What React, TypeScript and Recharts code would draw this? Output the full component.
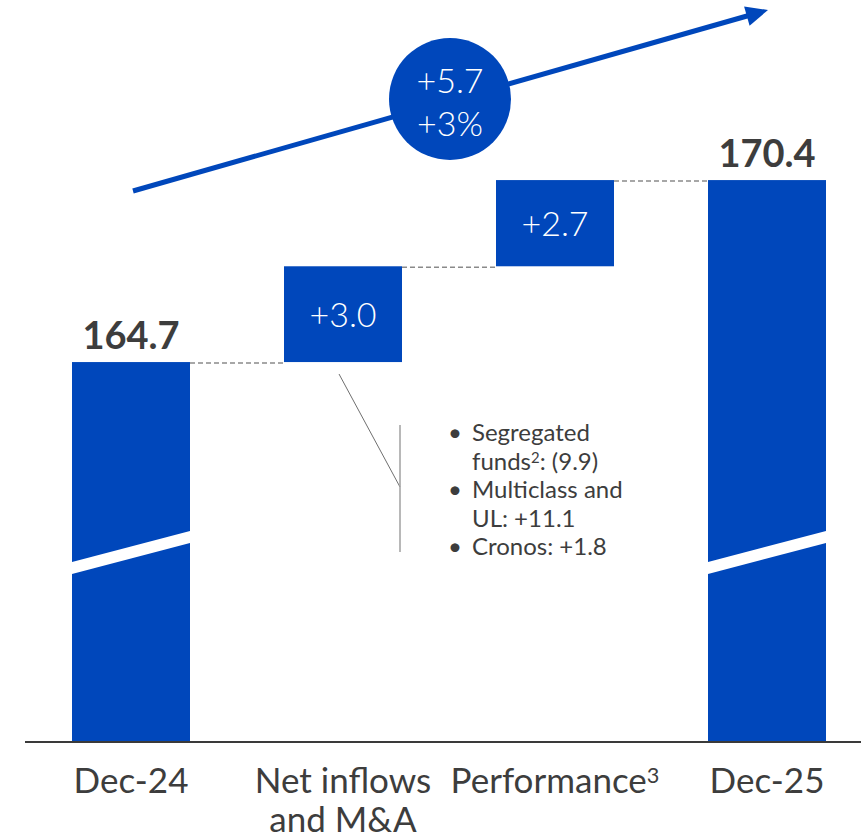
import React from 'react';
import { BarChart, Bar, XAxis, YAxis, LabelList } from 'recharts';

// Assets under management bridge, Dec-24 to Dec-25
const categories = ['Dec-24', 'Net inflows and M&A', 'Performance³', 'Dec-25'];
const tickLines = [['Dec-24'], ['Net inflows', 'and M&A'], ['Performance³'], ['Dec-25']];
const kinds = ['total', 'delta', 'delta', 'total'];
const openingValue = 164.7;
const movements = [3.0, 2.7];
const closingValue = 170.4;
const breakdown = ['Segregated', 'funds²: (9.9)', 'Multiclass and', 'UL: +11.1', 'Cronos: +1.8'];
const bulletStarts = [true, false, true, false, true];

// axis is broken, the bars start from this floor
const AXIS_FLOOR = 152.8;
const AXIS_TOP = 176.04;

const BLUE = '#0047bb';
const TEXT = '#3d3d3d';
const FONT = 'Lato, "Open Sans", sans-serif';

const CHART_W = 900;
const CHART_H = 836;
const MARGIN = { top: 0, right: 27, bottom: 34, left: 25 };
const BAR_SIZE = 118;
const BAND = (CHART_W - MARGIN.left - MARGIN.right) / categories.length;

const SUPS: Record<string, string> = { '¹': '1', '²': '2', '³': '3' };

// build floating bars: totals from the floor, movements stacked on the running total
const rows = (() => {
  let running = openingValue;
  let step = 0;
  return categories.map((name, i) => {
    if (kinds[i] === 'total') {
      const v = i === 0 ? openingValue : closingValue;
      return { name, range: [AXIS_FLOOR, v], label: v.toFixed(1), kind: 'total' };
    }
    const d = movements[step++];
    const row = { name, range: [running, running + d], label: `+${d.toFixed(1)}`, kind: 'delta' };
    running += d;
    return row;
  });
})();

const totalChange = closingValue - openingValue;
const pctChange = (totalChange / openingValue) * 100;

// split a string so that footnote marks come out as raised tspans
function withSup(text: string, size: number) {
  const parts: React.ReactNode[] = [];
  let buf = '';
  Array.from(text).forEach((ch, i) => {
    if (SUPS[ch]) {
      if (buf) parts.push(buf);
      buf = '';
      parts.push(
        <tspan key={i} fontSize={size * 0.62} baselineShift={size * 0.3}>
          {SUPS[ch]}
        </tspan>
      );
    } else {
      buf += ch;
    }
  });
  if (buf) parts.push(buf);
  return parts;
}

function WaterfallBar(props: any) {
  const { x, y, width, height, index } = props;
  const bottom = y + height;
  const gap = BAND - width;
  return (
    <g>
      <rect x={x} y={y} width={width} height={height} fill={BLUE} />
      {kinds[index] === 'total' && (
        <polygon
          points={`${x},${bottom - 168} ${x + width},${bottom - 199} ${x + width},${bottom - 211} ${x},${bottom - 180}`}
          fill="#fff"
        />
      )}
      {index < rows.length - 1 && (
        <line x1={x + width} y1={y + 1} x2={x + width + gap} y2={y + 1} stroke="#8a8a8a" strokeWidth={1.5} strokeDasharray="5 3" />
      )}
    </g>
  );
}

function BarLabel(props: any) {
  const { x, y, width, height, value, index } = props;
  const cx = x + width / 2;
  if (kinds[index] === 'total') {
    return (
      <text x={cx} y={y - 13} textAnchor="middle" fontFamily={FONT} fontWeight={700} fontSize={38} fill={TEXT}>
        {value}
      </text>
    );
  }
  return (
    <text x={cx} y={y + height / 2 + 13} textAnchor="middle" fontFamily={FONT} fontWeight={300} fontSize={34} fill="#fff">
      {value}
    </text>
  );
}

function CategoryTick(props: any) {
  const { x, y, index } = props;
  const lines = tickLines[index] || [];
  return (
    <g>
      {lines.map((t, i) => (
        <text key={i} x={x} y={y + 51 + i * 39} textAnchor="middle" fontFamily={FONT} fontSize={35} fill={TEXT}>
          {withSup(t, 35)}
        </text>
      ))}
    </g>
  );
}

function Annotations() {
  const x1 = 133, y1 = 191, tx = 768, ty = 10;
  const len = Math.hypot(tx - x1, ty - y1);
  const ux = (tx - x1) / len, uy = (ty - y1) / len;
  const headLen = 22, headHalf = 10;
  const bx = tx - ux * headLen, by = ty - uy * headLen;
  const head = `${tx},${ty} ${bx - uy * headHalf},${by + ux * headHalf} ${bx + uy * headHalf},${by - ux * headHalf}`;
  return (
    <svg width={861} height={836} style={{ position: 'absolute', left: 0, top: 0, pointerEvents: 'none' }}>
      <line x1={x1} y1={y1} x2={bx + ux * 2} y2={by + uy * 2} stroke={BLUE} strokeWidth={5} />
      <polygon points={head} fill={BLUE} />
      <circle cx={450} cy={99} r={61} fill={BLUE} />
      <text x={450} y={93} textAnchor="middle" fontFamily={FONT} fontWeight={300} fontSize={34} fill="#fff">
        {`+${totalChange.toFixed(1)}`}
      </text>
      <text x={450} y={136} textAnchor="middle" fontFamily={FONT} fontWeight={300} fontSize={34} fill="#fff">
        {`+${Math.floor(pctChange)}%`}
      </text>

      <line x1={339} y1={374} x2={400} y2={487} stroke="#6f6f6f" strokeWidth={1} />
      <line x1={400} y1={425} x2={400} y2={552} stroke="#a0a0a0" strokeWidth={1.5} />
      {breakdown.map((t, i) => (
        <g key={i}>
          {bulletStarts[i] && (
            <text x={455} y={441 + i * 28.5} textAnchor="middle" fontFamily={FONT} fontSize={24} fill={TEXT}>•</text>
          )}
          <text x={472} y={441 + i * 28.5} fontFamily={FONT} fontSize={24} fill={TEXT}>
            {withSup(t, 24)}
          </text>
        </g>
      ))}
    </svg>
  );
}

export default function App() {
  return (
    <div style={{ position: 'absolute', left: 0, top: 0, width: 861, height: CHART_H, overflow: 'hidden', background: '#fff' }}>
      <BarChart width={CHART_W} height={CHART_H} data={rows} margin={MARGIN}>
        <XAxis
          dataKey="name"
          axisLine={{ stroke: '#3a3a3a', strokeWidth: 2 }}
          tickLine={false}
          tickSize={0}
          tickMargin={0}
          height={60}
          interval={0}
          tick={<CategoryTick />}
        />
        <YAxis hide domain={[AXIS_FLOOR, AXIS_TOP]} />
        <Bar dataKey="range" barSize={BAR_SIZE} shape={<WaterfallBar />} isAnimationActive={false}>
          <LabelList dataKey="label" content={<BarLabel />} />
        </Bar>
      </BarChart>
      <Annotations />
    </div>
  );
}
